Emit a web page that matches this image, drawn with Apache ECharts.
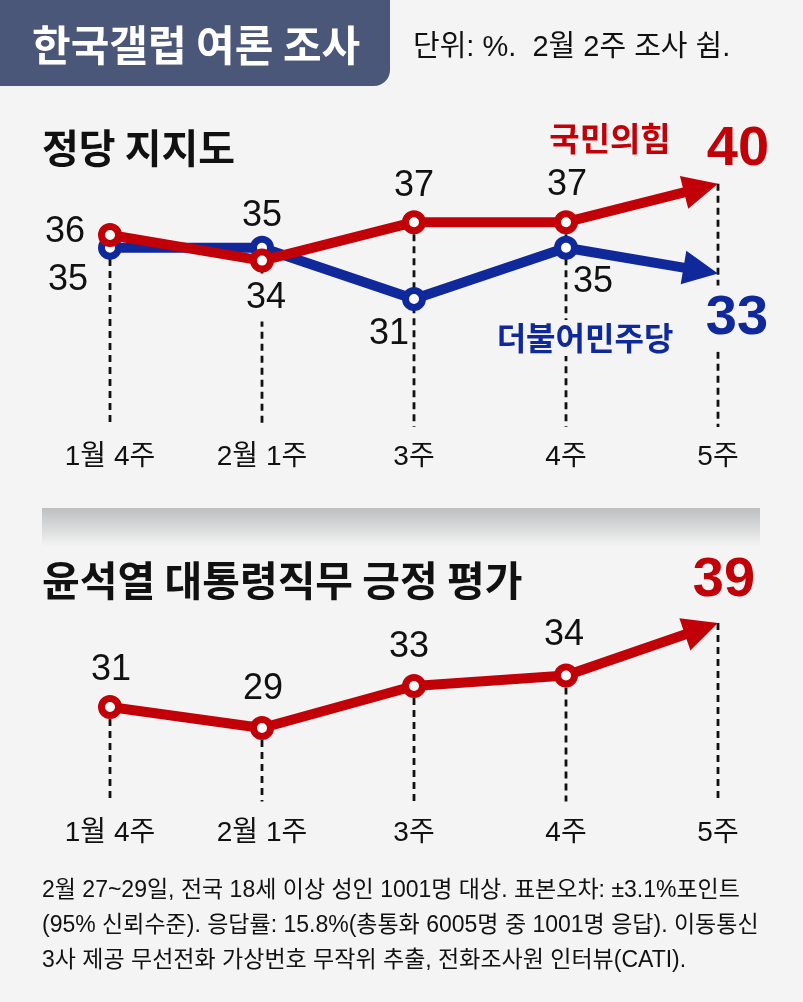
<!DOCTYPE html>
<html><head><meta charset="utf-8">
<script src="https://cdn.jsdelivr.net/npm/echarts@6/dist/echarts.min.js"></script>
<style>html,body{margin:0;padding:0;background:#f4f4f4}#c{width:803px;height:1002px}</style>
</head><body><div id="c"></div>
<script>
// ---- data ----
const categories = ['1월 4주', '2월 1주', '3주', '4주', '5주'];
const seriesNames = ['국민의힘', '더불어민주당'];
const ppp = [36, 34, 37, 37, 40];        // 국민의힘
const dem = [35, 35, 31, 35, 33];        // 더불어민주당
const approval = [31, 29, 33, 34, 39];   // 윤석열 대통령 직무 긍정 평가
const titleText = '한국갤럽 여론 조사';
const unitText = '단위: %.  2월 2주 조사 쉼.';
const panel1Title = '정당 지지도';
const panel2Title = '윤석열 대통령직무 긍정 평가';
const footerLines = [
  '2월 27~29일, 전국 18세 이상 성인 1001명 대상. 표본오차: ±3.1%포인트',
  '(95% 신뢰수준). 응답률: 15.8%(총통화 6005명 중 1001명 응답). 이동통신',
  '3사 제공 무선전화 가상번호 무작위 추출, 전화조사원 인터뷰(CATI).'
];

// ---- styles ----
const BG = '#f4f4f4';
const RED = '#c20008';
const BLUE = '#10299a';
const NUMFONT = "'Liberation Sans', sans-serif";
const KFONT = "'Noto Sans CJK KR', sans-serif";
const MIXFONT = "'Liberation Sans', 'Noto Sans CJK KR', sans-serif";
const redOff = [[-45, -3], [4, 37], [0, -36], [1, -37]];
const blueOff = [[-42, 32], [0, -32], [-25, 35], [27, 34]];
const apprOff = [[1, -37], [1, -39], [-5, -39], [-2, -40]];
const Y0 = {min: 21, max: 42};
const Y1 = {min: 22, max: 41};

function lineSeries(vals, color, offs, gi, z, bgIdx) {
  return {
    type: 'line', xAxisIndex: gi, yAxisIndex: gi, z: z,
    data: vals.slice(0, 4).map((v, i) => ({
      value: v,
      label: Object.assign({offset: offs[i]}, i === bgIdx ? {backgroundColor: BG, padding: [0, 3, 12, 3]} : {})
    })),
    symbol: 'circle', symbolSize: 17, showSymbol: true,
    lineStyle: {color: color, width: 10},
    itemStyle: {color: '#fff', borderColor: color, borderWidth: 7},
    label: {show: true, position: 'inside', color: '#111', fontSize: 36, fontFamily: NUMFONT},
    emphasis: {disabled: true},
    silent: true
  };
}

function dashSeries(tops, gi, ymin) {
  return {
    type: 'custom', xAxisIndex: gi, yAxisIndex: gi, z: 1, silent: true, clip: false,
    data: tops.map((v, i) => [i, v]),
    renderItem: function (params, api) {
      const p = api.coord([api.value(0), api.value(1)]);
      const b = api.coord([api.value(0), ymin]);
      return {type: 'line', shape: {x1: p[0], y1: p[1], x2: b[0], y2: b[1]},
        style: {stroke: '#111', lineWidth: 2.8, lineDash: [7, 5]}};
    }
  };
}

function arrowSeries(vals, color, gi, lw, labOff, labStyle) {
  return {
    type: 'custom', xAxisIndex: gi, yAxisIndex: gi, z: 2, silent: true, clip: false,
    data: [[3, vals[3], 4, vals[4]]],
    renderItem: function (params, api) {
      const p1 = api.coord([api.value(0), api.value(1)]);
      const p2 = api.coord([api.value(2), api.value(3)]);
      const dx = p2[0] - p1[0], dy = p2[1] - p1[1];
      const L = Math.sqrt(dx * dx + dy * dy);
      const ux = dx / L, uy = dy / L, nx = -uy, ny = ux;
      const hl = 35, hw = 17, sw = lw / 2;
      const bx = p2[0] - ux * hl, by = p2[1] - uy * hl;
      const pts = [
        [p1[0] + nx * sw, p1[1] + ny * sw], [bx + nx * sw, by + ny * sw], [bx + nx * hw, by + ny * hw],
        [p2[0], p2[1]],
        [bx - nx * hw, by - ny * hw], [bx - nx * sw, by - ny * sw], [p1[0] - nx * sw, p1[1] - ny * sw]
      ];
      return {type: 'group', children: [
        {type: 'polygon', shape: {points: pts}, style: {fill: color}},
        {type: 'text', x: p2[0] + labOff[0], y: p2[1] + labOff[1],
          style: Object.assign({text: String(api.value(3)), fill: color, align: 'center', verticalAlign: 'middle',
            font: "bold 56px 'Liberation Sans', sans-serif"}, labStyle || {})}
      ]};
    }
  };
}

function txt(text, x, y, font, fill, extra) {
  return {type: 'text', x: x, y: y, z: 10, silent: true,
    style: Object.assign({text: text, font: font, fill: fill, align: 'left', verticalAlign: 'middle',
      textAlign: 'left', textVerticalAlign: 'middle'}, extra || {})};
}

const chart = echarts.init(document.getElementById('c'), null, {renderer: 'canvas'});
const option = {
  backgroundColor: BG,
  animation: false,
  grid: [
    {left: 34, width: 760, top: 158.2, height: 268.8},
    {left: 34, width: 760, top: 602, height: 199.5}
  ],
  xAxis: [0, 1].map(i => ({
    type: 'category', gridIndex: i, data: categories, boundaryGap: true,
    axisLine: {show: false}, axisTick: {show: false}, splitLine: {show: false},
    axisLabel: {margin: i ? 18 : 16, fontSize: 28, color: '#111', fontFamily: MIXFONT}
  })),
  yAxis: [
    {type: 'value', gridIndex: 0, min: Y0.min, max: Y0.max, show: false},
    {type: 'value', gridIndex: 1, min: Y1.min, max: Y1.max, show: false}
  ],
  series: [
    dashSeries(ppp.map((v, i) => Math.max(v, dem[i])), 0, Y0.min),
    dashSeries(approval, 1, Y1.min),
    arrowSeries(ppp, RED, 0, 10, [20, -34]),
    arrowSeries(dem, BLUE, 0, 10, [19, 45], {backgroundColor: BG, padding: [4, 0, 6, 0]}),
    arrowSeries(approval, RED, 1, 10, [6, -42]),
    lineSeries(dem, BLUE, blueOff, 0, 3, -1),
    lineSeries(ppp, RED, redOff, 0, 4, 1),
    lineSeries(approval, RED, apprOff, 1, 4, -1)
  ],
  graphic: [
    {type: 'rect', x: 0, y: 0, z: 5, silent: true, shape: {x: 0, y: 0, width: 390, height: 86, r: [0, 0, 16, 0]},
      style: {fill: '#4b5779'}},
    txt(titleText, 32, 45, "bold 42px " + KFONT, '#ffffff'),
    txt(unitText, 413, 48, "29px " + MIXFONT, '#111'),
    txt(panel1Title, 42, 148, "bold 40px " + KFONT, '#111'),
    txt(seriesNames[0], 610, 138, "bold 33px " + KFONT, RED, {align: 'center', textAlign: 'center'}),
    txt(seriesNames[1], 585, 338, "bold 32px " + KFONT, BLUE,
      {align: 'center', textAlign: 'center', backgroundColor: BG, padding: [2, 2, 2, 2]}),
    {type: 'rect', x: 0, y: 0, z: 5, silent: true, shape: {x: 42, y: 508, width: 718, height: 38},
      style: {fill: {type: 'linear', x: 0, y: 0, x2: 0, y2: 1,
        colorStops: [{offset: 0, color: '#bdbfc1'}, {offset: 1, color: '#f3f3f3'}]}}},
    txt(panel2Title, 42, 580, "bold 41px " + KFONT, '#111'),
    txt(footerLines[0], 42, 891, "23px " + MIXFONT, '#111'),
    txt(footerLines[1], 42, 926, "23px " + MIXFONT, '#111'),
    txt(footerLines[2], 42, 961, "23px " + MIXFONT, '#111')
  ]
};
chart.setOption(option);
</script>
</body></html>
